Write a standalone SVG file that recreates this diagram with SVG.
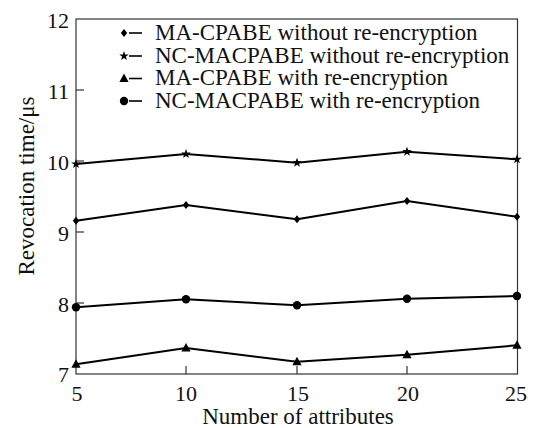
<svg xmlns="http://www.w3.org/2000/svg" width="534" height="428" viewBox="0 0 534 428">
  <style>
    .t { font-family: "Liberation Serif", "Times New Roman", serif; fill: #111; }
    .num { font-size: 22px; }
    .lbl { font-size: 23px; }
    .frame { fill: none; stroke: #333; stroke-width: 1.2; }
    .tk { stroke: #333; stroke-width: 1.2; }
    .key { stroke: #000; stroke-width: 1.6; }
    .series { fill: none; stroke: #000; stroke-width: 2; stroke-linejoin: round; }
    .mk { fill: #000; }
  </style>
  <defs>
    <path id="diamond" d="M0,-4 L3.2,0 L0,4 L-3.2,0 Z" class="mk"/>
    <path id="star" d="M0,-5 L1.2,-1.6 L4.8,-1.5 L1.9,0.6 L2.9,4 L0,2 L-2.9,4 L-1.9,0.6 L-4.8,-1.5 L-1.2,-1.6 Z" class="mk"/>
    <path id="tri" d="M0,-5 L4.6,3.5 L-4.6,3.5 Z" class="mk"/>
    <circle id="dot" r="4.2" class="mk"/>
  </defs>

  <!-- plot frame, ticks and axis labels -->
  <g id="axes">
    <rect class="frame" x="76" y="19" width="441.5" height="355"/>
    <line class="tk" x1="76" y1="90" x2="84" y2="90"/>
    <line class="tk" x1="76" y1="161" x2="84" y2="161"/>
    <line class="tk" x1="76" y1="232" x2="84" y2="232"/>
    <line class="tk" x1="76" y1="303" x2="84" y2="303"/>
    <line class="tk" x1="186" y1="374" x2="186" y2="366"/>
    <line class="tk" x1="297" y1="374" x2="297" y2="366"/>
    <line class="tk" x1="407" y1="374" x2="407" y2="366"/>
    <g text-anchor="end">
      <text class="t num" x="69" y="28">12</text>
      <text class="t num" x="69" y="99">11</text>
      <text class="t num" x="69" y="170">10</text>
      <text class="t num" x="69" y="241">9</text>
      <text class="t num" x="69" y="312">8</text>
      <text class="t num" x="69" y="382">7</text>
    </g>
    <g text-anchor="middle">
      <text class="t num" x="77" y="401">5</text>
      <text class="t num" x="186" y="401">10</text>
      <text class="t num" x="298" y="401">15</text>
      <text class="t num" x="408" y="401">20</text>
      <text class="t num" x="516" y="401">25</text>
    </g>
    <text class="t lbl" x="298" y="424" text-anchor="middle">Number of attributes</text>
    <text class="t lbl" transform="translate(34,186) rotate(-90)" text-anchor="middle">Revocation time/μs</text>
  </g>

  <!-- data series -->
  <g id="connectors">
    <polyline class="series" points="76,164 186,154 297,162.7 407,151.7 517,159.3"/>
    <polyline class="series" points="76,220.7 186,205 297,219.3 407,201 517,216.7"/>
    <polyline class="series" points="76,307.3 186,299.3 297,305.3 407,298.7 517,296"/>
    <polyline class="series" points="76,364.3 186,348 297,361.7 407,354.7 517,345.3"/>
  </g>

  <g id="ncmacpabe-without">
    <use href="#star" x="76" y="164"/>
    <use href="#star" x="186" y="154"/>
    <use href="#star" x="297" y="162.7"/>
    <use href="#star" x="407" y="151.7"/>
    <use href="#star" x="517" y="159.3"/>
  </g>
  <g id="macpabe-without">
    <use href="#diamond" x="76" y="220.7"/>
    <use href="#diamond" x="186" y="205"/>
    <use href="#diamond" x="297" y="219.3"/>
    <use href="#diamond" x="407" y="201"/>
    <use href="#diamond" x="517" y="216.7"/>
  </g>
  <g id="ncmacpabe-with">
    <use href="#dot" x="76" y="307.3"/>
    <use href="#dot" x="186" y="299.3"/>
    <use href="#dot" x="297" y="305.3"/>
    <use href="#dot" x="407" y="298.7"/>
    <use href="#dot" x="517" y="296"/>
  </g>
  <g id="macpabe-with">
    <use href="#tri" x="76" y="364.3"/>
    <use href="#tri" x="186" y="348"/>
    <use href="#tri" x="297" y="361.7"/>
    <use href="#tri" x="407" y="354.7"/>
    <use href="#tri" x="517" y="345.3"/>
  </g>

  <!-- legend -->
  <g id="legend">
    <use href="#diamond" x="124" y="33"/>
    <line class="key" x1="129" y1="33" x2="142" y2="33"/>
    <text class="t lbl" x="155" y="40">MA-CPABE without re-encryption</text>
    <use href="#star" x="124" y="56"/>
    <line class="key" x1="129" y1="56" x2="142" y2="56"/>
    <text class="t lbl" x="155" y="62.5">NC-MACPABE without re-encryption</text>
    <use href="#tri" x="124" y="78.5"/>
    <line class="key" x1="129" y1="78.5" x2="142" y2="78.5"/>
    <text class="t lbl" x="155" y="85">MA-CPABE with re-encryption</text>
    <use href="#dot" x="124" y="101"/>
    <line class="key" x1="129" y1="101" x2="142" y2="101"/>
    <text class="t lbl" x="155" y="107.5">NC-MACPABE with re-encryption</text>
  </g>
</svg>
